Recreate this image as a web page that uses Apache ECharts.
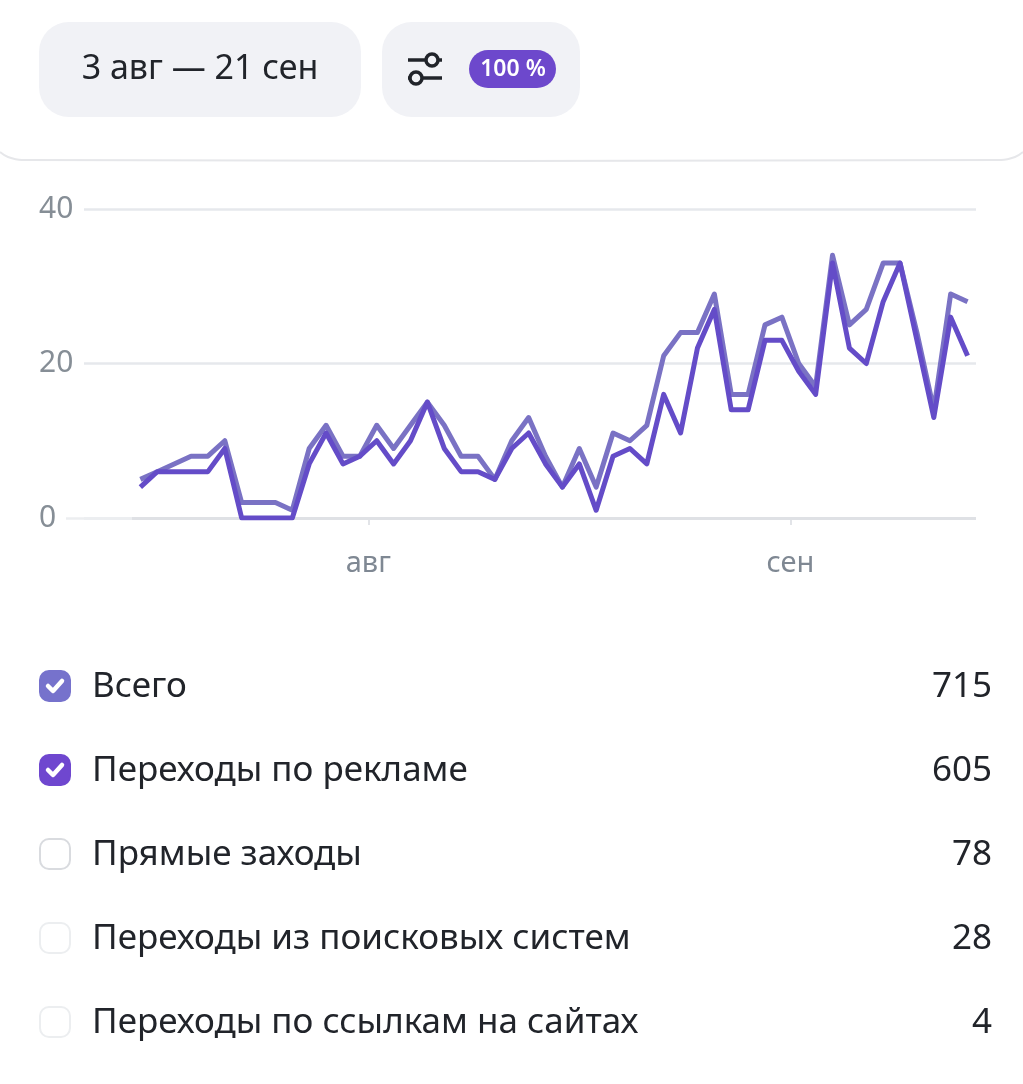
<!DOCTYPE html>
<html>
<head>
    <meta charset="utf-8">
    <script src="https://cdn.jsdelivr.net/npm/echarts@6/dist/echarts.min.js"></script>
    <style>
        html, body { margin: 0; padding: 0; background: #fff; }
    </style>
</head>
<body>
    <div id="main" style="width: 1023px; height: 1084px"></div>
    <script type="text/javascript">
        var totalValues = [5, 6, 7, 8, 8, 10, 2, 2, 2, 1, 9, 12, 8, 8, 12, 9, 12, 15, 12, 8, 8, 5, 10, 13, 8,
            4, 9, 4, 11, 10, 12, 21, 24, 24, 29, 16, 16, 25, 26, 20, 17, 34, 25, 27, 33, 33, 24, 14, 29, 28];
        var adValues = [4, 6, 6, 6, 6, 9, 0, 0, 0, 0, 7, 11, 7, 8, 10, 7, 10, 15, 9, 6, 6, 5, 9, 11, 7,
            4, 7, 1, 8, 9, 7, 16, 11, 22, 27, 14, 14, 23, 23, 19, 16, 33, 22, 20, 28, 33, 23, 13, 26, 21];
        var monthTicks = [13.5, 38.5];
        var monthLabels = ['авг', 'сен'];
        var legendNames = ['Всего', 'Переходы по рекламе', 'Прямые заходы', 'Переходы из поисковых систем', 'Переходы по ссылкам на сайтах'];
        var legendTotals = ['715', '605', '78', '28', '4'];
        var legendFill = ['#7672cc', '#6f47cf', null, null, null];
        var legendBorder = ['#7672cc', '#6f47cf', '#d9dbdf', '#eceef0', '#eceef0'];

        var fontName = '"Noto Sans"';
        var textColor = '#21242a';

        function toPairs(values) {
            var pairs = [];
            for (var i = 0; i < values.length; i++) {
                pairs.push([i, values[i]]);
            }
            return pairs;
        }

        function buildGraphic() {
            var items = [
                { type: 'rect', shape: { x: 39, y: 22, width: 322, height: 95, r: 30 }, style: { fill: '#f1f2f6' } },
                { type: 'rect', shape: { x: 382, y: 22, width: 198, height: 95, r: 30 }, style: { fill: '#f1f2f6' } },
                { type: 'text', style: { x: 200, y: 69, text: '3 авг — 21 сен', font: '34px ' + fontName, fill: textColor, align: 'center', verticalAlign: 'middle' } },
                // settings icon
                { type: 'line', shape: { x1: 408, y1: 60, x2: 426, y2: 60 }, style: { stroke: textColor, lineWidth: 3.5 } },
                { type: 'line', shape: { x1: 438, y1: 60, x2: 442, y2: 60 }, style: { stroke: textColor, lineWidth: 3.5 } },
                { type: 'circle', shape: { cx: 432, cy: 60, r: 6 }, style: { fill: 'none', stroke: textColor, lineWidth: 3.5 } },
                { type: 'line', shape: { x1: 408, y1: 78, x2: 410, y2: 78 }, style: { stroke: textColor, lineWidth: 3.5 } },
                { type: 'line', shape: { x1: 422, y1: 78, x2: 442, y2: 78 }, style: { stroke: textColor, lineWidth: 3.5 } },
                { type: 'circle', shape: { cx: 416, cy: 78, r: 6 }, style: { fill: 'none', stroke: textColor, lineWidth: 3.5 } },
                // badge
                { type: 'rect', shape: { x: 469, y: 50, width: 87, height: 38, r: 19 }, style: { fill: '#6d48cc' } },
                { type: 'text', style: { x: 513, y: 69, text: '100 %', font: '600 23px ' + fontName, fill: '#fff', align: 'center', verticalAlign: 'middle' } },
                // rounded bottom edge of the header card
                { type: 'polyline', shape: { points: [[0, 152], [8, 157], [22, 160], [1001, 160], [1015, 157], [1023, 152]], smooth: 0.4 }, style: { fill: 'none', stroke: '#e6e7ea', lineWidth: 2 } },
                // zero line: pale stub under the label, darker where the data starts
                { type: 'line', z: 1, shape: { x1: 66, y1: 518.5, x2: 132, y2: 518.5 }, style: { stroke: '#eceef0', lineWidth: 2.5 } },
                { type: 'line', z: 1, shape: { x1: 132, y1: 518.5, x2: 976, y2: 518.5 }, style: { stroke: '#dfe1e5', lineWidth: 3 } }
            ];
            for (var i = 0; i < legendNames.length; i++) {
                var y = 686 + i * 84;
                items.push({
                    type: 'rect',
                    shape: { x: 40, y: y - 15, width: 30, height: 30, r: 9 },
                    style: { fill: legendFill[i] || '#fff', stroke: legendBorder[i], lineWidth: 2 }
                });
                if (legendFill[i]) {
                    items.push({
                        type: 'polyline',
                        shape: { points: [[48, y], [53, y + 5], [62, y - 5]] },
                        style: { fill: 'none', stroke: '#fff', lineWidth: 4.5, lineCap: 'round', lineJoin: 'round' }
                    });
                }
                items.push({ type: 'text', style: { x: 92, y: y + 1, text: legendNames[i], font: '35px ' + fontName, fill: textColor, align: 'left', verticalAlign: 'middle' } });
                items.push({ type: 'text', style: { x: 992, y: y + 1, text: legendTotals[i], font: '35px ' + fontName, fill: textColor, align: 'right', verticalAlign: 'middle' } });
            }
            return items;
        }

        var myChart = echarts.init(document.getElementById('main'), null, { renderer: 'canvas' });
        var option = {
            animation: false,
            backgroundColor: '#fff',
            grid: { left: 84, right: 47, top: 209, bottom: 566 },
            xAxis: {
                type: 'value',
                min: -3.34,
                max: 49.5,
                splitLine: { show: false },
                axisLine: { show: false },
                axisTick: {
                    show: true,
                    customValues: monthTicks,
                    length: 7,
                    lineStyle: { color: '#e2e4e8', width: 2 }
                },
                axisLabel: {
                    show: true,
                    customValues: monthTicks,
                    margin: 31,
                    color: '#7f8893',
                    fontFamily: fontName,
                    fontSize: 29,
                    formatter: function (value) {
                        return monthLabels[monthTicks.indexOf(value)];
                    }
                }
            },
            yAxis: {
                type: 'value',
                min: 0,
                max: 40,
                interval: 20,
                axisLine: { show: false },
                axisTick: { show: false },
                axisLabel: {
                    margin: 45,
                    align: 'left',
                    color: '#868e96',
                    fontFamily: fontName,
                    fontSize: 30
                },
                splitLine: { lineStyle: { color: '#e6e8ec', width: 2.5 } }
            },
            series: [
                {
                    name: 'Всего',
                    type: 'line',
                    data: toPairs(totalValues),
                    symbol: 'none',
                    lineStyle: { color: '#7a72c4', width: 5, join: 'round' }
                },
                {
                    name: 'Переходы по рекламе',
                    type: 'line',
                    data: toPairs(adValues),
                    symbol: 'none',
                    lineStyle: { color: '#644cc8', width: 5, join: 'round' }
                }
            ],
            graphic: buildGraphic()
        };
        myChart.setOption(option);
    </script>
</body>
</html>
